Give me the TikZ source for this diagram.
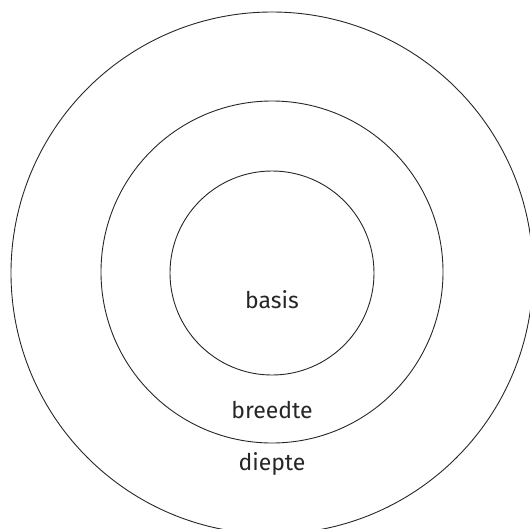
\documentclass[tikz,border=0pt]{standalone}
\usepackage{fontspec}
\setmainfont{Fira Sans}
\begin{document}
\begin{tikzpicture}[x=1pt,y=-1pt,
  ring/.style={draw=black!85,line width=0.9pt,circle},
  lbl/.style={font=\fontsize{23}{26}\selectfont,text=black!85}]
\useasboundingbox (0,0) rectangle (530,528);
\clip (0,0) rectangle (530,528);
\coordinate (c) at (272,272);
\draw[ring] (272,273) circle[radius=261];
\draw[ring] (c) circle[radius=171];
\draw[ring] (272,273) circle[radius=102];
\node[lbl] (basis) at (272,300) {basis};
\node[lbl] (breedte) at (272,410) {breedte};
\node[lbl] (diepte) at (272,464) {diepte};
\end{tikzpicture}
\end{document}
